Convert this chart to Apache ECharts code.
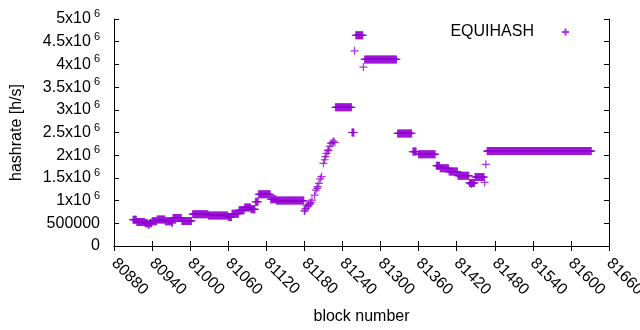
<!DOCTYPE html>
<html>
<head>
<meta charset="utf-8">
<title>EQUIHASH hashrate</title>
<script src="https://cdn.jsdelivr.net/npm/echarts@6/dist/echarts.min.js"></script>
<style>
  html, body { margin: 0; padding: 0; background: #fff; }
  #hashChart { width: 640px; height: 330px; }
</style>
</head>
<body>
<div id="hashChart"></div>
<script>
  // plateaus: one point per block from runFrom to runTo at runValue
  var runFrom = [80910, 80916, 80929, 80934, 80936, 80940, 80948, 80961, 80971, 80973, 80987, 81004, 81029, 81060, 81066, 81077, 81086, 81096, 81103, 81108, 81127, 81136, 81229, 81255, 81261, 81275, 81327, 81351, 81360, 81388, 81394, 81408, 81422, 81440, 81449, 81468];
  var runTo = [80915, 80928, 80933, 80935, 80939, 80947, 80960, 80970, 80972, 80986, 81002, 81028, 81059, 81065, 81076, 81085, 81095, 81102, 81107, 81126, 81135, 81179, 81254, 81258, 81272, 81325, 81349, 81356, 81386, 81393, 81407, 81421, 81439, 81448, 81463, 81632];
  var runValue = [580000, 530000, 500000, 470000, 500000, 545000, 582000, 545000, 510000, 615000, 552000, 702000, 674000, 640000, 712000, 786000, 850000, 808000, 975000, 1140000, 1030000, 1000000, 3055000, 2500000, 4640000, 4110000, 2480000, 2080000, 2020000, 1770000, 1710000, 1640000, 1550000, 1390000, 1520000, 2090000];

  // single blocks (the climb and the stray points)
  var singleBlock = [81180, 81181, 81182, 81184, 81186, 81187, 81189, 81190, 81192, 81196, 81198, 81200, 81201, 81203, 81205, 81207, 81210, 81212, 81213, 81215, 81217, 81218, 81220, 81222, 81224, 81226, 81228, 81259, 81273, 81443, 81464, 81466];
  var singleValue = [770000, 790000, 830000, 890000, 880000, 910000, 930000, 960000, 1010000, 1120000, 1230000, 1270000, 1310000, 1380000, 1480000, 1530000, 1820000, 1900000, 1970000, 2040000, 2100000, 2110000, 2200000, 2260000, 2280000, 2310000, 2280000, 4300000, 3940000, 1360000, 1400000, 1800000];

  var yTickText = ['0', '500000', '1x10', '1.5x10', '2x10', '2.5x10', '3x10', '3.5x10', '4x10', '4.5x10', '5x10'];
  var yTickSup = ['', '', '6', '6', '6', '6', '6', '6', '6', '6', '6'];

  var purple = '#9400d3';
  var font = 'Liberation Sans, Arial, sans-serif';
  var cross = 'path://M0,5L10,5M5,0L5,10';

  var points = [];
  for (let i = 0; i < runFrom.length; i++) {
    for (let b = runFrom[i]; b <= runTo[i]; b++) {
      points.push([b, runValue[i]]);
    }
  }
  for (let i = 0; i < singleBlock.length; i++) {
    points.push([singleBlock[i], singleValue[i]]);
  }

  var axisLine = { show: true, lineStyle: { color: '#000', width: 1 } };
  var axisTick = { show: true, inside: true, length: 5, lineStyle: { color: '#000' } };

  var chart = echarts.init(document.getElementById('hashChart'), null, { renderer: 'canvas' });
  chart.setOption({
    animation: false,
    backgroundColor: '#fff',
    textStyle: { fontFamily: font },
    grid: { left: 114, right: 31, top: 19, bottom: 84, containLabel: false, outerBoundsMode: 'none' },
    legend: {
      data: [{ name: 'EQUIHASH', icon: cross }],
      right: 70,
      top: 24,
      padding: 0,
      align: 'right',
      itemWidth: 7,
      itemHeight: 7,
      textStyle: { fontSize: 16, color: '#000', fontFamily: font, padding: [0, 23, 0, 0] }
    },
    xAxis: [{
      type: 'value',
      min: 80880,
      max: 81660,
      interval: 60,
      position: 'bottom',
      name: 'block number',
      nameLocation: 'middle',
      nameGap: 63,
      nameTextStyle: { fontSize: 16, color: '#000', fontFamily: font },
      axisLine: axisLine,
      axisTick: axisTick,
      splitLine: { show: false },
      axisLabel: {
        rotate: -45, margin: 15, fontSize: 16, color: '#000', fontFamily: font, showMaxLabel: true,
        formatter: function (v) { return String(v); }
      }
    }, {
      type: 'value',
      min: 80880,
      max: 81660,
      interval: 60,
      position: 'top',
      axisLine: axisLine,
      axisTick: axisTick,
      splitLine: { show: false },
      axisLabel: { show: false }
    }],
    yAxis: [{
      type: 'value',
      min: 0,
      max: 5000000,
      interval: 500000,
      position: 'left',
      name: 'hashrate [h/s]',
      nameLocation: 'middle',
      nameGap: 89,
      nameTextStyle: { fontSize: 16, color: '#000', fontFamily: font },
      axisLine: axisLine,
      axisTick: axisTick,
      splitLine: { show: false },
      axisLabel: {
        margin: 14,
        formatter: function (v) {
          var i = Math.round(v / 500000);
          var s = '{b|' + yTickText[i] + '}';
          if (yTickSup[i]) s += '{s|' + yTickSup[i] + '}';
          return s;
        },
        rich: {
          b: { fontSize: 16, color: '#000', fontFamily: font },
          s: { fontSize: 11, lineHeight: 11, color: '#000', fontFamily: font, padding: [0, 0, 10, 3] }
        }
      }
    }, {
      type: 'value',
      min: 0,
      max: 5000000,
      interval: 500000,
      position: 'right',
      axisLine: axisLine,
      axisTick: axisTick,
      splitLine: { show: false },
      axisLabel: { show: false }
    }],
    series: [{
      name: 'EQUIHASH',
      type: 'scatter',
      symbol: cross,
      symbolSize: 8,
      itemStyle: { color: purple, borderColor: purple, borderWidth: 1.2 },
      emphasis: { disabled: true },
      data: points
    }]
  });
</script>
</body>
</html>
